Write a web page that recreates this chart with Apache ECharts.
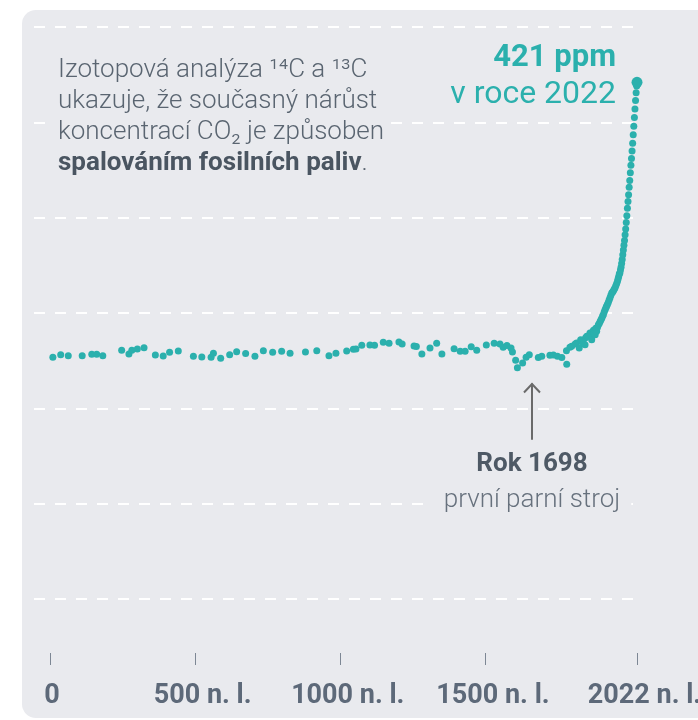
<!DOCTYPE html>
<html><head><meta charset="utf-8">
<script src="https://cdn.jsdelivr.net/npm/echarts@6/dist/echarts.min.js"></script>
<style>html,body{margin:0;padding:0;background:#fff}#c{width:698px;height:720px}</style>
</head><body><div id="c"></div>
<script>
// ---- data ----
const years = [10,37,63,111,144,161,182,247,272,282,301,324,363,390,412,442,494,523,555,563,588,619,643,674,706,735,767,798,827,880,919,961,985,1022,1045,1054,1074,1102,1118,1148,1168,1202,1213,1254,1262,1281,1309,1332,1350,1392,1413,1430,1451,1470,1503,1530,1550,1561,1574,1588,1593,1604,1610,1628,1640,1651,1682,1694,1722,1734,1748,1763,1780,1779,1791,1797,1809,1814,1823,1828,1833,1837,1843,1845,1849,1855,1860,1863,1866,1869,1872,1875,1878,1880,1883,1886,1889,1892,1895,1898,1901,1904,1906,1909,1912,1915,1917,1920,1923,1926,1929,1932,1935,1938,1940,1943,1946,1949,1952,1955,1957,1959,1961,1963,1965,1967,1969,1971,1973,1975,1977,1979,1981,1983,1985,1987,1989,1991,1993,1995,1997,1999,2001,2003,2005,2007,2009,2011,2013,2015,2017,2019,2021];
const ppm = [276.8,278.1,277.6,277.6,278.3,278.3,277.6,280.4,278.5,280.4,281.1,281.8,278.0,277.4,279.4,280.1,277.3,276.9,276.8,278.9,276.3,278.1,279.7,278.7,277.3,280.2,279.4,279.9,278.9,279.5,280.2,277.6,278.9,280.1,281.0,281.1,283.1,283.2,283.1,284.7,284.1,284.8,283.8,282.7,282.4,278.5,281.7,284.2,278.5,281.2,279.9,279.9,282.3,280.5,283.2,284.2,283.7,282.0,283.0,281.6,279.5,275.2,271.3,273.8,276.8,278.1,276.7,277.3,277.8,278.0,277.3,276.7,273.1,280.2,282.0,282.5,283.7,284.3,281.6,286.0,285.0,284.3,283.4,287.0,287.8,288.0,289.5,288.6,286.0,290.0,291.0,289.5,288.6,292.0,290.4,292.5,293.9,294.5,295.5,296.5,297.4,298.5,299.1,300.5,301.7,302.8,303.5,304.5,305.5,306.8,308.0,309.3,310.5,311.0,311.4,312.3,313.1,314.3,315.5,316.8,318.0,319.2,320.5,321.0,322.5,324.0,326.0,328.0,330.5,333.0,335.5,338.0,341.0,344.0,347.5,351.0,355.0,358.5,362.0,366.0,369.5,373.5,377.5,381.0,385.0,389.0,393.5,398.0,402.5,407.0,411.5,415.5,419.0];
const lastYear = [2022];
const lastPpm = [421];
const xTickValues = [0, 500, 1000, 1500, 2022];
const xTickLabels = ['0', '500 n. l.', '1000 n. l.', '1500 n. l.', '2022 n. l.'];
const arrowYear = 1660;      // where the annotation arrow points (x)
const arrowTipPpm = 263;
const arrowBasePpm = 233.5;

// ---- styles ----
const teal = '#2bb0ad';
const card = '#e9eaee';
const chart = echarts.init(document.getElementById('c'), null, {renderer: 'canvas'});

const option = {
  backgroundColor: '#ffffff',
  animation: false,
  grid: {left: 34, right: 61, top: 27, bottom: 121, containLabel: false, outerBoundsMode: 'none'},
  xAxis: {
    type: 'value', min: -55, max: 2022, position: 'bottom', offset: 54,
    axisLine: {show: false},
    splitLine: {show: false},
    axisTick: {show: true, customValues: xTickValues, length: 12, inside: false,
      lineStyle: {color: '#7d8794', width: 1}},
    axisLabel: {
      show: true, customValues: xTickValues, margin: 30, hideOverlap: false,
      showMinLabel: true, showMaxLabel: true,
      formatter: function (v) {
        const i = xTickValues.indexOf(v);
        const t = i >= 0 ? xTickLabels[i] : '';
        return v === 0 ? '{z|' + t + '}' : '{a|' + t + '}';
      },
      rich: {
        z: {fontFamily: 'Roboto', fontWeight: 'bold', fontSize: 27, color: '#5d6979', padding: [0, 0, 0, 4]},
        a: {fontFamily: 'Roboto', fontWeight: 'bold', fontSize: 27, color: '#5d6979', padding: [0, 0, 0, 15]}
      }
    }
  },
  yAxis: {
    type: 'value', min: 150, max: 450, interval: 50,
    axisLine: {show: false}, axisTick: {show: false}, axisLabel: {show: false},
    splitLine: {show: true, lineStyle: {color: '#ffffff', width: 2, type: [11, 10]}}
  },
  series: [
    {
      type: 'scatter', silent: true, symbolSize: 7, z: 3,
      itemStyle: {color: teal, opacity: 1},
      data: years.map((y, i) => [y, ppm[i]])
    },
    {
      type: 'scatter', silent: true, symbolSize: 11, z: 4,
      itemStyle: {color: teal, opacity: 1},
      data: lastYear.map((y, i) => [y, lastPpm[i]])
    }
  ]
};
chart.setOption(option);

const tip = chart.convertToPixel({gridIndex: 0}, [arrowYear, arrowTipPpm]);
const base = chart.convertToPixel({gridIndex: 0}, [arrowYear, arrowBasePpm]);
const ax = Math.round(tip[0]);

chart.setOption({
  graphic: [
    {type: 'rect', id: 'card', z: -10, silent: true,
      shape: {x: 22, y: 10, width: 720, height: 708, r: 14},
      style: {fill: card}},
    {type: 'text', id: 'intro', z: 100, silent: true, x: 45, y: 51,
      style: {
        text: '{n|Izotopová analýza ¹⁴C a ¹³C}\n{n|ukazuje, že současný nárůst}\n{n|koncentrací CO₂ je způsoben}\n{b|spalováním fosilních paliv}{n|.}',
        backgroundColor: card, padding: [4, 7, 4, 13],
        align: 'left', verticalAlign: 'top',
        rich: {
          n: {fontFamily: 'Roboto', fontWeight: 300, fontSize: 26, lineHeight: 31, fill: '#5a6571'},
          b: {fontFamily: 'Roboto', fontWeight: 'bold', fontSize: 26, lineHeight: 31, fill: '#4a5561'}
        }
      }},
    {type: 'text', id: 'val', z: 100, silent: true, x: 616, y: 58,
      style: {text: '421 ppm', fontFamily: 'Roboto', fontWeight: 'bold', fontSize: 31,
        fill: teal, align: 'right', verticalAlign: 'middle'}},
    {type: 'text', id: 'yr', z: 100, silent: true, x: 616, y: 95,
      style: {text: 'v roce 2022', fontFamily: 'Roboto', fontWeight: 'normal', fontSize: 32,
        fill: teal, align: 'right', verticalAlign: 'middle'}},
    {type: 'polyline', id: 'arrowLine', z: 100, silent: true,
      shape: {points: [[ax, tip[1]], [ax, base[1]]]},
      style: {stroke: '#6a6a6a', lineWidth: 2, fill: null}},
    {type: 'polyline', id: 'arrowHead', z: 100, silent: true,
      shape: {points: [[ax - 8, tip[1] + 9], [ax, tip[1] + 0.5], [ax + 8, tip[1] + 9]]},
      style: {stroke: '#6a6a6a', lineWidth: 2, fill: null}},
    {type: 'text', id: 'rok', z: 100, silent: true, x: ax, y: base[1] + 25,
      style: {text: 'Rok 1698', fontFamily: 'Roboto', fontWeight: 'bold', fontSize: 26,
        fill: '#4e5965', align: 'center', verticalAlign: 'middle'}},
    {type: 'text', id: 'stroj', z: 100, silent: true, x: ax, y: base[1] + 61,
      style: {text: 'první parní stroj', fontFamily: 'Roboto', fontWeight: 300, fontSize: 26,
        fill: '#67717d', align: 'center', verticalAlign: 'middle',
        backgroundColor: card, padding: [2, 11, 2, 11]}}
  ]
});
</script>
</body></html>
